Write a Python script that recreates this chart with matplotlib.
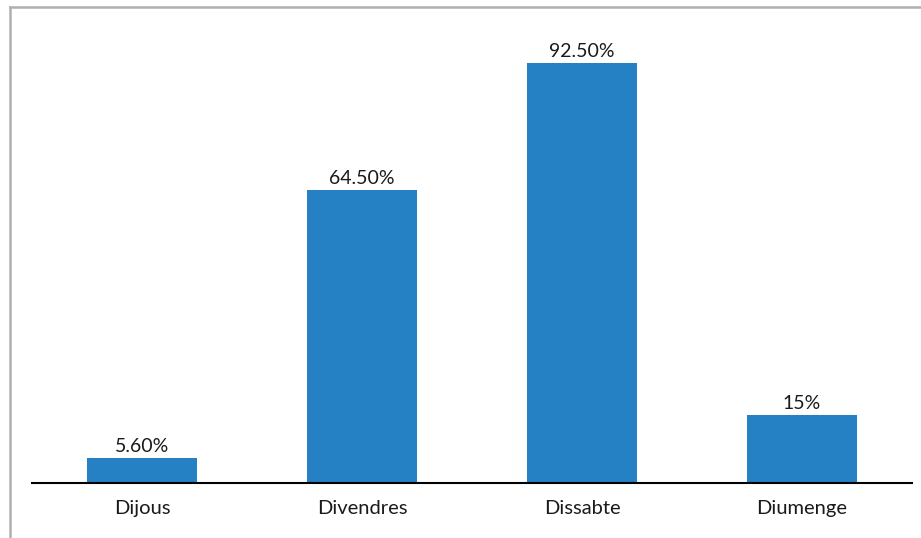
import matplotlib
matplotlib.use('Agg')
import matplotlib.pyplot as plt
from matplotlib.lines import Line2D

days = ["Dijous", "Divendres", "Dissabte", "Diumenge"]
values = [5.6, 64.5, 92.5, 15]
labels = ["5.60%", "64.50%", "92.50%", "15%"]

plt.rcParams['font.family'] = ['Lato', 'DejaVu Sans']

fig = plt.figure(figsize=(9.21, 5.38), dpi=100)
ax = fig.add_axes([32 / 921, 55 / 538, 880 / 921, 454 / 538])

x = range(len(days))
bars = ax.bar(x, values, width=0.5, color='#2581c4')
for b, lab in zip(bars, labels):
    ax.annotate(lab, (b.get_x() + b.get_width() / 2, b.get_height()),
                xytext=(0, 2), textcoords='offset points',
                ha='center', va='bottom', fontsize=14, color='#1a1a1a')

ax.set_xlim(-0.5, 3.5)
ax.set_ylim(0, 100)
ax.set_xticks(list(x))
ax.set_xticklabels(days, fontsize=14.5, color='#1a1a1a')
ax.tick_params(axis='x', length=0, pad=12)
ax.set_yticks([])
for s in ['top', 'right', 'left']:
    ax.spines[s].set_visible(False)
ax.spines['bottom'].set_linewidth(1.5)
ax.spines['bottom'].set_color('black')

# frame around the chart (top and left edges visible)
fig.add_artist(Line2D([10 / 921, 1], [1 - 7 / 538, 1 - 7 / 538],
                      color='#b0b0b0', lw=1.8, transform=fig.transFigure))
fig.add_artist(Line2D([10 / 921, 10 / 921], [0, 1 - 7 / 538],
                      color='#b0b0b0', lw=1.8, transform=fig.transFigure))

fig.savefig('out.png', dpi=100)
